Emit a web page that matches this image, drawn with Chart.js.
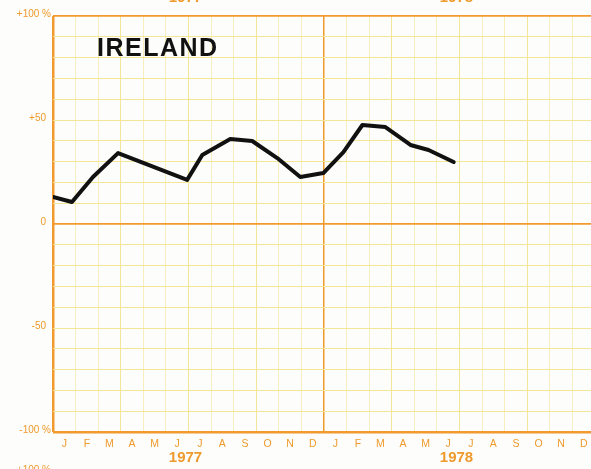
<!DOCTYPE html>
<html>
<head>
<meta charset="utf-8">
<script src="https://cdn.jsdelivr.net/npm/chart.js@4/dist/chart.umd.min.js"></script>
<style>
  html, body { margin: 0; padding: 0; background: #fdfdfb; overflow: hidden; }
  #wrap { width: 597px; height: 469px; }
</style>
</head>
<body>
<div id="wrap"><canvas id="c" width="597" height="469"></canvas></div>
<script>
// ---- data ----
const monthLetters = ['J','F','M','A','M','J','J','A','S','O','N','D'];
const years = ['1977', '1978'];
// position along the time axis, in months from the start of January 1977
const monthPos = [0, 0.84, 1.77, 2.88, 5.94, 6.61, 7.85, 8.82, 9.93, 10.95, 11.97, 12.86, 13.7, 14.72, 15.83, 16.63, 17.74];
// percentage change
const changePct = [13.0, 10.6, 22.6, 34.1, 21.2, 33.2, 40.9, 39.9, 31.7, 22.6, 24.5, 34.6, 47.6, 46.6, 38.0, 35.6, 29.8];
const yTickValues = [100, 50, 0, -50, -100];
const yTickLabels = ['+100 %', '+50', '0', '-50', '-100 %'];
const titleText = 'IRELAND';

const ORANGE = '#f29a2e';
const ORANGE_TEXT = '#ee9a2c';
const YELLOW = '#f4e698';
const YELLOW_LIGHT = '#f7efc0';

const points = monthPos.map((m, i) => ({ x: m, y: changePct[i] }));

const labelsPlugin = {
  id: 'labels',
  afterDraw(chart) {
    const ctx = chart.ctx;
    const xs = chart.scales.x, ys = chart.scales.y;
    const left = chart.chartArea.left;
    ctx.save();
    // y labels
    ctx.fillStyle = ORANGE_TEXT;
    ctx.font = '10px "Liberation Sans", Arial, sans-serif';
    ctx.textAlign = 'right';
    ctx.textBaseline = 'middle';
    yTickValues.forEach((v, i) => {
      const t = yTickLabels[i];
      const xr = t.includes('%') ? left - 2 : left - 7;
      ctx.fillText(t, xr, ys.getPixelForValue(v) - 2);
    });
    // month letters
    ctx.textAlign = 'center';
    ctx.textBaseline = 'middle';
    ctx.font = '10.5px "Liberation Sans", Arial, sans-serif';
    for (let k = 0; k < 24; k++) {
      ctx.fillText(monthLetters[k % 12], xs.getPixelForValue(k + 0.5), chart.chartArea.bottom + 12);
    }
    // year labels
    ctx.font = 'bold 15px "Liberation Sans", Arial, sans-serif';
    years.forEach((y, i) => {
      ctx.fillText(y, xs.getPixelForValue(i * 12 + 6) - 3, chart.chartArea.bottom + 26);
    });
    // cut-off labels of the neighbouring charts
    ctx.textBaseline = 'alphabetic';
    years.forEach((y, i) => {
      ctx.fillText(y, xs.getPixelForValue(i * 12 + 6) - 3, 1.5);
    });
    ctx.font = '10px "Liberation Sans", Arial, sans-serif';
    ctx.textAlign = 'right';
    ctx.textBaseline = 'top';
    ctx.fillText('+100 %', left - 2, 465);
    // title
    ctx.fillStyle = '#111';
    ctx.font = 'bold 25px "Liberation Sans", Arial, sans-serif';
    ctx.textAlign = 'left';
    ctx.textBaseline = 'middle';
    if ('letterSpacing' in ctx) ctx.letterSpacing = '1.5px';
    ctx.fillText(titleText, 97, 49);
    ctx.restore();
  }
};

new Chart(document.getElementById('c'), {
  type: 'line',
  data: {
    datasets: [{
      data: points,
      borderColor: '#111',
      borderWidth: 4,
      tension: 0,
      pointRadius: 0,
      borderJoinStyle: 'round',
      borderCapStyle: 'round'
    }]
  },
  options: {
    responsive: false,
    maintainAspectRatio: false,
    animation: false,
    events: [],
    layout: { padding: { left: 53, top: 16, bottom: 37, right: 2 } },
    plugins: { legend: { display: false }, tooltip: { enabled: false }, title: { display: false } },
    scales: {
      x: {
        type: 'linear', min: 0, max: 24,
        ticks: { display: false, stepSize: 1 },
        grid: {
          drawTicks: false,
          color: c => {
            const v = c.tick.value;
            if (v === 0 || v === 12) return ORANGE;
            if (v % 3 === 0) return YELLOW;
            return YELLOW_LIGHT;
          },
          lineWidth: c => (c.tick.value === 0 ? 2.5 : c.tick.value === 12 ? 1.5 : 1)
        },
        border: { display: false }
      },
      y: {
        min: -100, max: 100,
        ticks: { display: false, stepSize: 10 },
        grid: {
          drawTicks: false,
          color: c => {
            const v = c.tick.value;
            if (v === 0 || v === 100 || v === -100) return ORANGE;
            return YELLOW;
          },
          lineWidth: c => {
            const v = c.tick.value;
            if (v === -100) return 2.5;
            if (v === 0 || v === 100) return 1.8;
            return 1;
          }
        },
        border: { display: false }
      }
    }
  },
  plugins: [labelsPlugin]
});
</script>
</body>
</html>
